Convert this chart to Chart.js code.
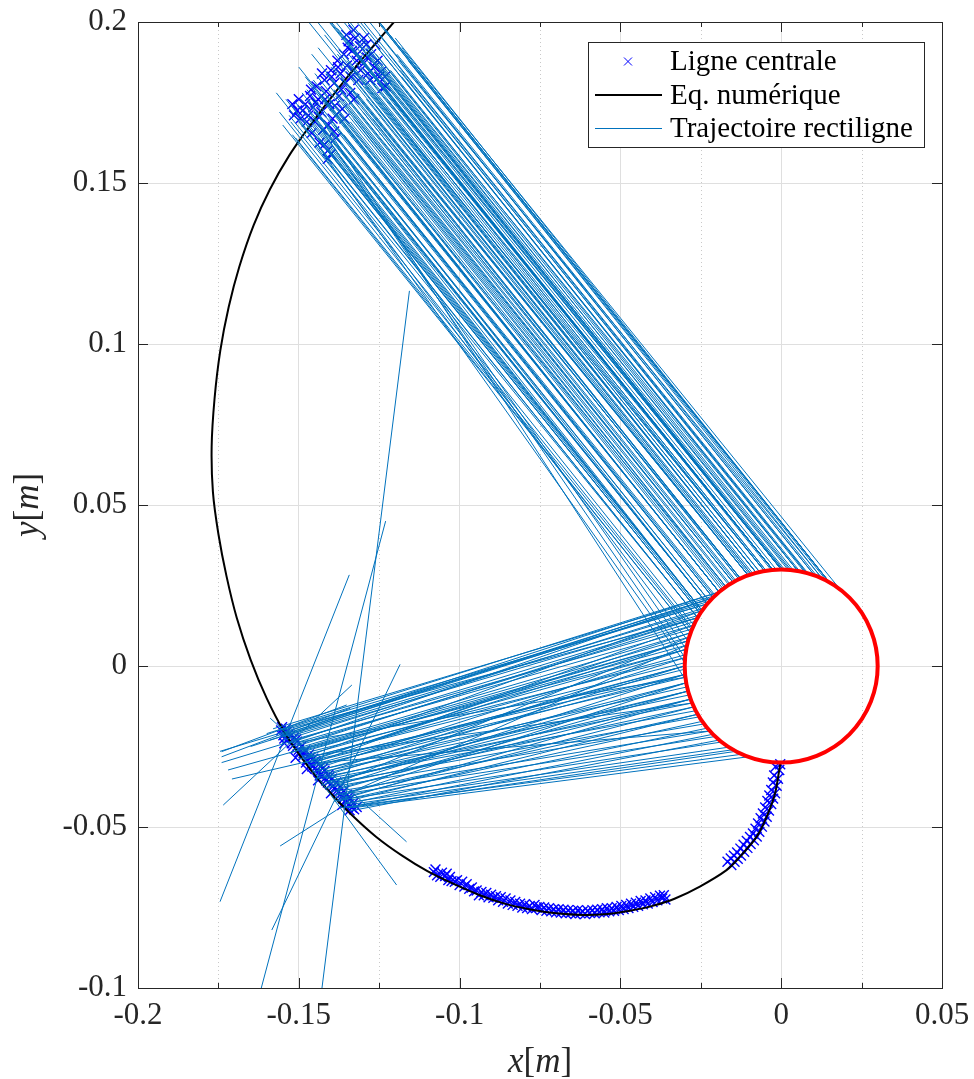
<!DOCTYPE html>
<html>
<head>
<meta charset="utf-8">
<script src="https://cdn.jsdelivr.net/npm/chart.js@4.4.0/dist/chart.umd.min.js"></script>
<style>
  html, body { margin: 0; padding: 0; background: #fff; }
</style>
</head>
<body>
<canvas id="chart" width="974" height="1079"></canvas>
<script>
// axes
const xTicks = [-0.2, -0.15, -0.1, -0.05, 0, 0.05];
const xTickLabels = ["-0.2", "-0.15", "-0.1", "-0.05", "0", "0.05"];
const xMinorTicks = [-0.175, -0.125, -0.075, -0.025, 0.025];
const yTicks = [-0.1, -0.05, 0, 0.05, 0.1, 0.15, 0.2];
const yTickLabels = ["-0.1", "-0.05", "0", "0.05", "0.1", "0.15", "0.2"];

// obstacle (red circle)
const circleCenter = [0, 0];
const circleRadius = 0.03;

// "Eq. numérique" curve
const curveX = [-0.1204, -0.1290, -0.1380, -0.1460, -0.1530, -0.1590, -0.1640, -0.1685, -0.1718, -0.1744,
  -0.1762, -0.1771, -0.1767, -0.1750, -0.1725, -0.1693, -0.1650, -0.1600, -0.1545, -0.1480,
  -0.1410, -0.1340, -0.1260, -0.1180, -0.1100, -0.1020, -0.0937, -0.0860, -0.0780, -0.0700,
  -0.0616, -0.0540, -0.0470, -0.0400, -0.0330, -0.0253, -0.0170, -0.0128, -0.0076, -0.0045,
  -0.0019, -0.0006, -0.0001];
const curveY = [0.2000, 0.1900, 0.1790, 0.1685, 0.1585, 0.1480, 0.1370, 0.1240, 0.1115, 0.0980,
  0.0830, 0.0680, 0.0540, 0.0410, 0.0280, 0.0150, 0.0020, -0.0100, -0.0205, -0.0300,
  -0.0385, -0.0458, -0.0530, -0.0588, -0.0637, -0.0676, -0.0712, -0.0738, -0.0756, -0.0768,
  -0.0773, -0.0770, -0.0760, -0.0745, -0.0722, -0.0685, -0.0634, -0.0592, -0.0530, -0.0468,
  -0.0395, -0.0323, -0.0295];

// "Ligne centrale" markers [x, y]
const upperMarks = [
  [-0.1505, 0.1725], [-0.1495, 0.1700], [-0.1480, 0.1745], [-0.1470, 0.1710], [-0.1465, 0.1770],
  [-0.1455, 0.1735], [-0.1450, 0.1690], [-0.1445, 0.1800], [-0.1440, 0.1760], [-0.1430, 0.1720],
  [-0.1425, 0.1665], [-0.1420, 0.1820], [-0.1415, 0.1785], [-0.1410, 0.1600], [-0.1405, 0.1745],
  [-0.1400, 0.1850], [-0.1395, 0.1700], [-0.1390, 0.1810], [-0.1385, 0.1640], [-0.1380, 0.1880],
  [-0.1375, 0.1770], [-0.1370, 0.1840], [-0.1365, 0.1730], [-0.1360, 0.1900], [-0.1355, 0.1810],
  [-0.1350, 0.1865], [-0.1345, 0.1940], [-0.1340, 0.1780], [-0.1335, 0.1910], [-0.1330, 0.1850],
  [-0.1325, 0.1950], [-0.1320, 0.1880], [-0.1315, 0.1820], [-0.1310, 0.1925], [-0.1300, 0.1870],
  [-0.1290, 0.1930], [-0.1285, 0.1840], [-0.1275, 0.1900], [-0.1265, 0.1860], [-0.1250, 0.1830],
  [-0.1240, 0.1795], [-0.1410, 0.1575], [-0.1435, 0.1625], [-0.1460, 0.1655], [-0.1520, 0.1745],
  [-0.1515, 0.1710], [-0.1500, 0.1760], [-0.1488, 0.1725], [-0.1475, 0.1690], [-0.1462, 0.1790],
  [-0.1448, 0.1750], [-0.1438, 0.1705], [-0.1428, 0.1840], [-0.1418, 0.1760], [-0.1408, 0.1680],
  [-0.1398, 0.1830], [-0.1388, 0.1740], [-0.1378, 0.1860], [-0.1368, 0.1790], [-0.1358, 0.1700],
  [-0.1348, 0.1920], [-0.1338, 0.1830], [-0.1328, 0.1760], [-0.1318, 0.1900], [-0.1308, 0.1850],
  [-0.1298, 0.1950], [-0.1288, 0.1890], [-0.1278, 0.1820], [-0.1262, 0.1930], [-0.1255, 0.1880],
  [-0.1245, 0.1845], [-0.1232, 0.1830], [-0.1420, 0.1620], [-0.1400, 0.1590], [-0.1390, 0.1660],
  [-0.1352, 0.1960], [-0.1330, 0.1975], [-0.1230, 0.1800]
];
const lowerMarks = [
  [-0.1555, -0.0200], [-0.1548, -0.0215], [-0.1540, -0.0195], [-0.1535, -0.0228], [-0.1530, -0.0210],
  [-0.1522, -0.0240], [-0.1515, -0.0222], [-0.1510, -0.0255], [-0.1505, -0.0235], [-0.1498, -0.0268],
  [-0.1492, -0.0250], [-0.1488, -0.0280], [-0.1480, -0.0262], [-0.1475, -0.0292], [-0.1468, -0.0275],
  [-0.1462, -0.0305], [-0.1455, -0.0288], [-0.1450, -0.0318], [-0.1445, -0.0300], [-0.1438, -0.0330],
  [-0.1432, -0.0312], [-0.1428, -0.0342], [-0.1420, -0.0325], [-0.1415, -0.0355], [-0.1408, -0.0338],
  [-0.1402, -0.0368], [-0.1396, -0.0350], [-0.1390, -0.0380], [-0.1384, -0.0362], [-0.1378, -0.0392],
  [-0.1372, -0.0375], [-0.1366, -0.0405], [-0.1360, -0.0388], [-0.1355, -0.0418], [-0.1350, -0.0400],
  [-0.1345, -0.0430], [-0.1340, -0.0412], [-0.1335, -0.0440], [-0.1330, -0.0425], [-0.1342, -0.0448],
  [-0.1365, -0.0432], [-0.1400, -0.0395], [-0.1440, -0.0355], [-0.1475, -0.0320], [-0.1510, -0.0285],
  [-0.1545, -0.0240], [-0.1552, -0.0190], [-0.1545, -0.0225], [-0.1538, -0.0205], [-0.1527, -0.0218],
  [-0.1518, -0.0248], [-0.1508, -0.0228], [-0.1500, -0.0260], [-0.1485, -0.0270], [-0.1478, -0.0300],
  [-0.1465, -0.0285], [-0.1458, -0.0312], [-0.1448, -0.0295], [-0.1442, -0.0322], [-0.1435, -0.0340],
  [-0.1425, -0.0318], [-0.1418, -0.0348], [-0.1410, -0.0362], [-0.1405, -0.0345], [-0.1392, -0.0372],
  [-0.1380, -0.0385], [-0.1370, -0.0398], [-0.1362, -0.0412], [-0.1352, -0.0425], [-0.1348, -0.0410],
  [-0.1338, -0.0435], [-0.1328, -0.0445], [-0.1320, -0.0438]
];
const bottomMarks = [
  [-0.1080, -0.0640], [-0.1070, -0.0650], [-0.1060, -0.0655], [-0.1045, -0.0652], [-0.1035, -0.0665],
  [-0.1025, -0.0668], [-0.1015, -0.0670], [-0.1000, -0.0680], [-0.0985, -0.0685], [-0.0970, -0.0692],
  [-0.0955, -0.0700], [-0.0940, -0.0712], [-0.0925, -0.0712], [-0.0910, -0.0718], [-0.0895, -0.0720],
  [-0.0880, -0.0728], [-0.0865, -0.0732], [-0.0850, -0.0738], [-0.0835, -0.0742], [-0.0820, -0.0745],
  [-0.0805, -0.0750], [-0.0790, -0.0752], [-0.0775, -0.0755], [-0.0760, -0.0750], [-0.0745, -0.0758],
  [-0.0730, -0.0760], [-0.0715, -0.0762], [-0.0700, -0.0765], [-0.0685, -0.0766], [-0.0670, -0.0768],
  [-0.0655, -0.0767], [-0.0640, -0.0770], [-0.0625, -0.0768], [-0.0610, -0.0770], [-0.0595, -0.0767],
  [-0.0580, -0.0768], [-0.0565, -0.0765], [-0.0550, -0.0766], [-0.0535, -0.0762], [-0.0520, -0.0760],
  [-0.0505, -0.0758], [-0.0490, -0.0755], [-0.0475, -0.0752], [-0.0460, -0.0748], [-0.0445, -0.0745],
  [-0.0430, -0.0740], [-0.0415, -0.0738], [-0.0400, -0.0733], [-0.0385, -0.0728], [-0.0370, -0.0722],
  [-0.0360, -0.0725], [-0.1075, -0.0632], [-0.1055, -0.0642], [-0.1040, -0.0645], [-0.1030, -0.0655],
  [-0.1008, -0.0665], [-0.0992, -0.0670], [-0.0978, -0.0678], [-0.0962, -0.0688], [-0.0947, -0.0697],
  [-0.0932, -0.0702], [-0.0917, -0.0705], [-0.0902, -0.0710], [-0.0887, -0.0715], [-0.0872, -0.0718],
  [-0.0857, -0.0722], [-0.0842, -0.0728], [-0.0827, -0.0733], [-0.0812, -0.0738], [-0.0797, -0.0740],
  [-0.0782, -0.0745], [-0.0767, -0.0742], [-0.0752, -0.0748], [-0.0737, -0.0750], [-0.0722, -0.0752],
  [-0.0707, -0.0755], [-0.0692, -0.0755], [-0.0677, -0.0757], [-0.0662, -0.0758], [-0.0647, -0.0760],
  [-0.0632, -0.0758], [-0.0617, -0.0762], [-0.0602, -0.0760], [-0.0587, -0.0758], [-0.0572, -0.0757],
  [-0.0557, -0.0755], [-0.0542, -0.0752], [-0.0527, -0.0752], [-0.0512, -0.0748], [-0.0497, -0.0745],
  [-0.0482, -0.0742], [-0.0467, -0.0738], [-0.0452, -0.0735], [-0.0437, -0.0730], [-0.0422, -0.0728],
  [-0.0407, -0.0722], [-0.0392, -0.0718], [-0.0377, -0.0713], [-0.0365, -0.0712]
];
const rightMarks = [
  [-0.0155, -0.0618], [-0.0145, -0.0608], [-0.0135, -0.0599], [-0.0125, -0.0589], [-0.0115, -0.0577],
  [-0.0105, -0.0565], [-0.0095, -0.0553], [-0.0085, -0.0541], [-0.0076, -0.0530], [-0.0068, -0.0515],
  [-0.0060, -0.0499], [-0.0052, -0.0483], [-0.0045, -0.0468], [-0.0038, -0.0449], [-0.0031, -0.0429],
  [-0.0025, -0.0412], [-0.0019, -0.0395], [-0.0014, -0.0372], [-0.0010, -0.0350], [-0.0006, -0.0323],
  [-0.0003, -0.0305], [-0.0167, -0.0608], [-0.0157, -0.0598], [-0.0147, -0.0589], [-0.0137, -0.0579],
  [-0.0127, -0.0567], [-0.0117, -0.0555], [-0.0107, -0.0543], [-0.0097, -0.0531], [-0.0088, -0.0520],
  [-0.0080, -0.0505], [-0.0072, -0.0489], [-0.0064, -0.0473], [-0.0057, -0.0458], [-0.0050, -0.0439],
  [-0.0043, -0.0419], [-0.0037, -0.0402], [-0.0031, -0.0385], [-0.0026, -0.0362], [-0.0022, -0.0340],
  [-0.0018, -0.0313]
];

// "Trajectoire rectiligne" segments [x1, y1, x2, y2]
const upperTraj = [
  [-0.1530, 0.1710, -0.0260, 0.0150], [-0.1510, 0.1750, -0.0246, 0.0172], [-0.1500, 0.1690, -0.0260, 0.0150],
  [-0.1490, 0.1780, -0.0230, 0.0193], [-0.1480, 0.1720, -0.0246, 0.0172], [-0.1470, 0.1810, -0.0193, 0.0230],
  [-0.1460, 0.1760, -0.0212, 0.0212], [-0.1450, 0.1700, -0.0230, 0.0193], [-0.1450, 0.1840, -0.0172, 0.0246],
  [-0.1440, 0.1780, -0.0193, 0.0230], [-0.1430, 0.1670, -0.0230, 0.0193], [-0.1420, 0.1820, -0.0150, 0.0260],
  [-0.1410, 0.1750, -0.0193, 0.0230], [-0.1410, 0.1610, -0.0246, 0.0172], [-0.1400, 0.1860, -0.0127, 0.0272],
  [-0.1390, 0.1790, -0.0150, 0.0260], [-0.1380, 0.1720, -0.0172, 0.0246], [-0.1380, 0.1900, -0.0078, 0.0290],
  [-0.1370, 0.1830, -0.0103, 0.0282], [-0.1360, 0.1760, -0.0150, 0.0260], [-0.1360, 0.1650, -0.0212, 0.0212],
  [-0.1350, 0.1880, -0.0078, 0.0290], [-0.1340, 0.1920, -0.0026, 0.0299], [-0.1340, 0.1800, -0.0103, 0.0282],
  [-0.1330, 0.1850, -0.0052, 0.0295], [-0.1320, 0.1940, 0.0000, 0.0300], [-0.1320, 0.1780, -0.0103, 0.0282],
  [-0.1310, 0.1890, -0.0026, 0.0299], [-0.1300, 0.1830, -0.0052, 0.0295], [-0.1290, 0.1920, 0.0026, 0.0299],
  [-0.1280, 0.1870, 0.0000, 0.0300], [-0.1270, 0.1810, -0.0026, 0.0299], [-0.1260, 0.1900, 0.0052, 0.0295],
  [-0.1250, 0.1840, 0.0000, 0.0300], [-0.1240, 0.1790, -0.0026, 0.0299], [-0.1230, 0.1730, -0.0052, 0.0295],
  [-0.1350, 0.2050, 0.0078, 0.0290], [-0.1400, 0.2100, 0.0052, 0.0295], [-0.1450, 0.2080, 0.0000, 0.0300],
  [-0.1500, 0.2120, -0.0026, 0.0299], [-0.1430, 0.2030, -0.0026, 0.0299], [-0.1570, 0.1780, -0.0260, 0.0150],
  [-0.1500, 0.1860, -0.0193, 0.0230], [-0.1460, 0.1900, -0.0127, 0.0272], [-0.1420, 0.1960, -0.0078, 0.0290],
  [-0.1380, 0.1980, -0.0026, 0.0299], [-0.1290, 0.1760, -0.0103, 0.0282], [-0.1330, 0.1700, -0.0172, 0.0246],
  [-0.1270, 0.1700, -0.0127, 0.0272], [-0.1200, 0.1750, -0.0026, 0.0299], [-0.1180, 0.1830, 0.0052, 0.0295],
  [-0.1220, 0.1900, 0.0078, 0.0290], [-0.1250, 0.1960, 0.0103, 0.0282], [-0.1280, 0.2000, 0.0103, 0.0282],
  [-0.1200, 0.1950, 0.0150, 0.0260], [-0.1310, 0.2070, 0.0127, 0.0272], [-0.1360, 0.2000, 0.0000, 0.0300],
  [-0.1440, 0.1920, -0.0103, 0.0282], [-0.1480, 0.1830, -0.0193, 0.0230], [-0.1390, 0.1680, -0.0212, 0.0212],
  [-0.1410, 0.1650, -0.0246, 0.0172], [-0.1520, 0.1650, -0.0282, 0.0103], [-0.1470, 0.1760, -0.0296, -0.0045],
  [-0.1480, 0.1740, -0.0299, 0.0026], [-0.1450, 0.1620, -0.0290, 0.0078], [-0.1180, 0.1920, 0.0183, 0.0238],
  [-0.1190, 0.1880, 0.0127, 0.0272],
  [-0.1525, 0.1690, -0.0272, 0.0127], [-0.1515, 0.1730, -0.0252, 0.0163], [-0.1495, 0.1760, -0.0230, 0.0193],
  [-0.1485, 0.1700, -0.0249, 0.0168], [-0.1475, 0.1790, -0.0205, 0.0219], [-0.1465, 0.1740, -0.0223, 0.0201],
  [-0.1455, 0.1820, -0.0185, 0.0236], [-0.1445, 0.1720, -0.0223, 0.0201], [-0.1435, 0.1800, -0.0181, 0.0240],
  [-0.1425, 0.1760, -0.0193, 0.0230], [-0.1415, 0.1840, -0.0145, 0.0263], [-0.1405, 0.1700, -0.0208, 0.0216],
  [-0.1395, 0.1820, -0.0141, 0.0265], [-0.1385, 0.1770, -0.0163, 0.0252], [-0.1375, 0.1870, -0.0098, 0.0284],
  [-0.1365, 0.1800, -0.0132, 0.0270], [-0.1355, 0.1740, -0.0159, 0.0254], [-0.1345, 0.1900, -0.0052, 0.0295],
  [-0.1335, 0.1830, -0.0093, 0.0285], [-0.1325, 0.1760, -0.0127, 0.0272], [-0.1315, 0.1930, 0.0000, 0.0300],
  [-0.1305, 0.1860, -0.0047, 0.0296], [-0.1295, 0.1800, -0.0078, 0.0290], [-0.1285, 0.1900, 0.0005, 0.0300],
  [-0.1275, 0.1840, -0.0031, 0.0298], [-0.1265, 0.1780, -0.0067, 0.0292], [-0.1255, 0.1920, 0.0057, 0.0295],
  [-0.1245, 0.1860, 0.0010, 0.0300], [-0.1235, 0.1810, -0.0016, 0.0300], [-0.1225, 0.1760, -0.0047, 0.0296],
  [-0.1215, 0.1850, 0.0037, 0.0298], [-0.1205, 0.1800, 0.0005, 0.0300], [-0.1195, 0.1900, 0.0112, 0.0278],
  [-0.1185, 0.1850, 0.0073, 0.0291], [-0.1370, 0.2150, 0.0150, 0.0260], [-0.1420, 0.2150, 0.0083, 0.0288],
  [-0.1470, 0.2150, 0.0021, 0.0299], [-0.1520, 0.2150, -0.0026, 0.0299], [-0.1550, 0.2100, -0.0088, 0.0287],
  [-0.1490, 0.2060, -0.0067, 0.0292], [-0.1390, 0.2060, 0.0031, 0.0298], [-0.1330, 0.2100, 0.0150, 0.0260],
  [-0.1290, 0.2050, 0.0150, 0.0260], [-0.1340, 0.1690, -0.0176, 0.0243], [-0.1300, 0.1720, -0.0132, 0.0270],
  [-0.1260, 0.1740, -0.0093, 0.0285], [-0.1440, 0.1640, -0.0252, 0.0163], [-0.1380, 0.1620, -0.0230, 0.0193],
  [-0.1560, 0.1720, -0.0276, 0.0117], [-0.1550, 0.1680, -0.0282, 0.0103], [-0.1510, 0.1640, -0.0278, 0.0112],
  [-0.1460, 0.1680, -0.0246, 0.0172], [-0.1540, 0.1760, -0.0252, 0.0163], [-0.1230, 0.1970, 0.0150, 0.0260],
  [-0.1160, 0.1880, 0.0141, 0.0265], [-0.1500, 0.1700, -0.0300, 0.0010], [-0.1440, 0.1680, -0.0295, 0.0052]
];
const lowerTraj = [
  [-0.1560, -0.0200, -0.0230, 0.0193], [-0.1550, -0.0220, -0.0246, 0.0172], [-0.1540, -0.0210, -0.0193, 0.0230],
  [-0.1530, -0.0240, -0.0212, 0.0212], [-0.1520, -0.0230, -0.0272, 0.0127], [-0.1520, -0.0260, -0.0282, 0.0103],
  [-0.1510, -0.0250, -0.0260, 0.0150], [-0.1500, -0.0270, -0.0290, 0.0078], [-0.1500, -0.0290, -0.0246, 0.0172],
  [-0.1490, -0.0280, -0.0295, 0.0052], [-0.1480, -0.0300, -0.0282, 0.0103], [-0.1480, -0.0270, -0.0299, 0.0026],
  [-0.1470, -0.0310, -0.0300, 0.0000], [-0.1460, -0.0290, -0.0290, 0.0078], [-0.1460, -0.0330, -0.0299, -0.0026],
  [-0.1450, -0.0320, -0.0295, 0.0052], [-0.1440, -0.0340, -0.0295, -0.0052], [-0.1440, -0.0310, -0.0300, 0.0000],
  [-0.1430, -0.0350, -0.0290, -0.0078], [-0.1420, -0.0330, -0.0299, 0.0026], [-0.1420, -0.0360, -0.0282, -0.0103],
  [-0.1410, -0.0380, -0.0299, -0.0026], [-0.1400, -0.0370, -0.0272, -0.0127], [-0.1400, -0.0390, -0.0290, -0.0078],
  [-0.1390, -0.0400, -0.0260, -0.0150], [-0.1380, -0.0380, -0.0282, -0.0103], [-0.1380, -0.0420, -0.0246, -0.0172],
  [-0.1370, -0.0410, -0.0272, -0.0127], [-0.1360, -0.0430, -0.0230, -0.0193], [-0.1360, -0.0400, -0.0295, -0.0052],
  [-0.1350, -0.0440, -0.0212, -0.0212], [-0.1350, -0.0420, -0.0260, -0.0150], [-0.1340, -0.0450, -0.0193, -0.0230],
  [-0.1340, -0.0430, -0.0150, -0.0260], [-0.1330, -0.0440, -0.0103, -0.0282], [-0.1370, -0.0440, -0.0122, -0.0274],
  [-0.1745, -0.0265, -0.0230, 0.0193], [-0.1740, -0.0300, -0.0260, 0.0150], [-0.1720, -0.0323, -0.0290, 0.0078],
  [-0.1708, -0.0351, -0.0299, -0.0026], [-0.1650, -0.0250, -0.0212, 0.0212], [-0.1600, -0.0210, -0.0193, 0.0230],
  [-0.1530, -0.0270, -0.0295, 0.0052], [-0.1450, -0.0350, -0.0300, 0.0000], [-0.1410, -0.0360, -0.0290, -0.0078],
  [-0.1390, -0.0420, -0.0282, -0.0103], [-0.1450, -0.0300, -0.0272, 0.0127], [-0.1550, -0.0200, -0.0260, 0.0150],
  [-0.1430, -0.0370, -0.0295, -0.0052],
  [-0.1555, -0.0215, -0.0212, 0.0212], [-0.1545, -0.0230, -0.0240, 0.0180], [-0.1535, -0.0220, -0.0255, 0.0158],
  [-0.1525, -0.0250, -0.0266, 0.0139], [-0.1515, -0.0240, -0.0277, 0.0115], [-0.1505, -0.0260, -0.0286, 0.0090],
  [-0.1495, -0.0265, -0.0293, 0.0065], [-0.1485, -0.0290, -0.0298, 0.0035], [-0.1475, -0.0285, -0.0300, 0.0010],
  [-0.1465, -0.0300, -0.0300, -0.0010], [-0.1455, -0.0310, -0.0298, -0.0035], [-0.1445, -0.0325, -0.0293, -0.0065],
  [-0.1435, -0.0330, -0.0286, -0.0090], [-0.1425, -0.0345, -0.0277, -0.0115], [-0.1415, -0.0350, -0.0266, -0.0139],
  [-0.1405, -0.0365, -0.0255, -0.0158], [-0.1395, -0.0375, -0.0240, -0.0180], [-0.1385, -0.0390, -0.0222, -0.0202],
  [-0.1375, -0.0400, -0.0205, -0.0219], [-0.1365, -0.0415, -0.0185, -0.0236], [-0.1355, -0.0425, -0.0163, -0.0252],
  [-0.1345, -0.0440, -0.0141, -0.0265], [-0.1420, -0.0380, -0.0286, 0.0090], [-0.1380, -0.0410, -0.0293, 0.0065],
  [-0.1470, -0.0280, -0.0277, -0.0115], [-0.1520, -0.0240, -0.0298, -0.0035], [-0.1440, -0.0300, -0.0222, -0.0202],
  [-0.1580, -0.0195, -0.0205, 0.0219], [-0.1590, -0.0230, -0.0222, 0.0202]
];
const strayTraj = [
  [-0.1156, 0.1165, -0.1438, -0.1080], [-0.1230, 0.0450, -0.1630, -0.1050], [-0.1343, 0.0283, -0.1745, -0.0732],
  [-0.1185, 0.0005, -0.1584, -0.0820], [-0.1335, -0.0059, -0.1735, -0.0432], [-0.1740, -0.0266, -0.1351, -0.0121],
  [-0.1740, -0.0282, -0.1340, -0.0131], [-0.1589, -0.0162, -0.1165, -0.0546], [-0.1496, -0.0270, -0.1196, -0.0680],
  [-0.1558, -0.0559, -0.1382, -0.0447]
];

const serif = "'Liberation Serif', 'DejaVu Serif', serif";
const axisColor = "#262626";
const trajColor = "#0072BD";
const markColor = "#0000FF";

function toPoints(pairs) {
  return pairs.map(p => ({ x: p[0], y: p[1] }));
}

// break every segment with a null point so the segments are not joined
function segmentsToPoints(segs) {
  const pts = [];
  segs.forEach(s => {
    pts.push({ x: s[0], y: s[1] }, { x: s[2], y: s[3] }, { x: s[2], y: null });
  });
  return pts;
}

const markPoints = toPoints([].concat(upperMarks, lowerMarks, bottomMarks, rightMarks));
const curvePoints = curveX.map((x, i) => ({ x: x, y: curveY[i] }));
const trajPoints = segmentsToPoints([].concat(upperTraj, lowerTraj, strayTraj));

function drawMathLabel(ctx, parts, size) {
  // parts: [text, italic]
  let total = 0;
  const widths = parts.map(p => {
    ctx.font = (p[1] ? "italic " : "") + size + "px " + serif;
    const w = ctx.measureText(p[0]).width;
    total += w;
    return w;
  });
  let x = -total / 2;
  parts.forEach((p, i) => {
    ctx.font = (p[1] ? "italic " : "") + size + "px " + serif;
    ctx.fillText(p[0], x, 0);
    x += widths[i];
  });
}

const framePlugin = {
  id: "frame",
  beforeDatasetsDraw(chart) {
    const { ctx, chartArea: a, scales: { x } } = chart;
    ctx.save();
    ctx.strokeStyle = "#c9c9c9";
    ctx.lineWidth = 1;
    ctx.setLineDash([1, 3]);
    xMinorTicks.forEach(v => {
      const px = Math.round(x.getPixelForValue(v)) + 0.5;
      ctx.beginPath();
      ctx.moveTo(px, a.top);
      ctx.lineTo(px, a.bottom);
      ctx.stroke();
    });
    ctx.restore();
  },
  afterDatasetsDraw(chart) {
    const { ctx, chartArea: a, scales: { x, y } } = chart;
    ctx.save();
    // red circle
    const cx = x.getPixelForValue(circleCenter[0]);
    const cy = y.getPixelForValue(circleCenter[1]);
    const rx = x.getPixelForValue(circleCenter[0] + circleRadius) - cx;
    const ry = cy - y.getPixelForValue(circleCenter[1] + circleRadius);
    ctx.strokeStyle = "#FF0000";
    ctx.lineWidth = 4;
    ctx.beginPath();
    ctx.ellipse(cx, cy, rx, ry, 0, 0, Math.PI * 2);
    ctx.stroke();

    // box and inward ticks
    ctx.strokeStyle = axisColor;
    ctx.lineWidth = 1;
    ctx.strokeRect(Math.round(a.left) + 0.5, Math.round(a.top) + 0.5,
      Math.round(a.right - a.left), Math.round(a.bottom - a.top));
    ctx.beginPath();
    xTicks.forEach(v => {
      const px = Math.round(x.getPixelForValue(v)) + 0.5;
      ctx.moveTo(px, a.bottom); ctx.lineTo(px, a.bottom - 10);
      ctx.moveTo(px, a.top); ctx.lineTo(px, a.top + 10);
    });
    xMinorTicks.forEach(v => {
      const px = Math.round(x.getPixelForValue(v)) + 0.5;
      ctx.moveTo(px, a.bottom); ctx.lineTo(px, a.bottom - 5);
      ctx.moveTo(px, a.top); ctx.lineTo(px, a.top + 5);
    });
    yTicks.forEach(v => {
      const py = Math.round(y.getPixelForValue(v)) + 0.5;
      ctx.moveTo(a.left, py); ctx.lineTo(a.left + 10, py);
      ctx.moveTo(a.right, py); ctx.lineTo(a.right - 10, py);
    });
    ctx.stroke();
    ctx.restore();
  },
  afterDraw(chart) {
    const { ctx, chartArea: a } = chart;
    ctx.save();
    ctx.fillStyle = axisColor;
    ctx.textBaseline = "alphabetic";

    // axis titles
    ctx.save();
    ctx.translate((a.left + a.right) / 2, 1072);
    drawMathLabel(ctx, [["x", true], ["[", false], ["m", true], ["]", false]], 35);
    ctx.restore();
    ctx.save();
    ctx.translate(38, (a.top + a.bottom) / 2);
    ctx.rotate(-Math.PI / 2);
    drawMathLabel(ctx, [["y", true], ["[", false], ["m", true], ["]", false]], 35);
    ctx.restore();

    // legend
    const bx = 588, by = 42, bw = 336, bh = 105;
    ctx.fillStyle = "#ffffff";
    ctx.fillRect(bx, by, bw, bh);
    ctx.strokeStyle = axisColor;
    ctx.lineWidth = 1;
    ctx.strokeRect(bx + 0.5, by + 0.5, bw, bh);
    const rows = [61.5, 95, 128];
    const labels = ["Ligne centrale", "Eq. numérique", "Trajectoire rectiligne"];
    ctx.font = "29px " + serif;
    ctx.textBaseline = "middle";
    ctx.fillStyle = "#000000";
    labels.forEach((t, i) => ctx.fillText(t, 670, rows[i] + 1));
    // marker sample
    ctx.strokeStyle = markColor;
    ctx.lineWidth = 1;
    ctx.beginPath();
    ctx.moveTo(624, rows[0] - 4); ctx.lineTo(632, rows[0] + 4);
    ctx.moveTo(624, rows[0] + 4); ctx.lineTo(632, rows[0] - 4);
    ctx.stroke();
    // line samples
    ctx.strokeStyle = "#000000";
    ctx.lineWidth = 2;
    ctx.beginPath(); ctx.moveTo(595, rows[1]); ctx.lineTo(662, rows[1]); ctx.stroke();
    ctx.strokeStyle = trajColor;
    ctx.lineWidth = 1;
    ctx.beginPath(); ctx.moveTo(595, rows[2] + 0.5); ctx.lineTo(662, rows[2] + 0.5); ctx.stroke();
    ctx.restore();
  }
};

const ctx = document.getElementById("chart").getContext("2d");

new Chart(ctx, {
  type: "line",
  data: {
    datasets: [
      {
        label: "Trajectoire rectiligne",
        data: trajPoints,
        borderColor: trajColor,
        borderWidth: 1,
        pointRadius: 0,
        spanGaps: false,
        tension: 0,
        order: 1
      },
      {
        label: "Eq. numérique",
        data: curvePoints,
        borderColor: "#000000",
        borderWidth: 2,
        pointRadius: 0,
        tension: 0.3,
        order: 2
      },
      {
        type: "scatter",
        label: "Ligne centrale",
        data: markPoints,
        showLine: false,
        pointStyle: "crossRot",
        pointRadius: 7,
        borderColor: markColor,
        backgroundColor: markColor,
        borderWidth: 1.4,
        order: 3
      }
    ]
  },
  options: {
    responsive: false,
    animation: false,
    layout: { padding: { left: 0, right: 32, top: 22, bottom: 0 } },
    plugins: {
      legend: { display: false },
      tooltip: { enabled: false }
    },
    scales: {
      x: {
        type: "linear",
        min: -0.2,
        max: 0.05,
        afterBuildTicks: s => { s.ticks = xTicks.map(v => ({ value: v })); },
        afterFit: s => { s.height = 91; s.paddingLeft = 0; s.paddingRight = 0; },
        ticks: {
          callback: (v, i) => xTickLabels[i],
          font: { family: serif, size: 31 },
          color: axisColor,
          padding: 9,
          maxRotation: 0,
          autoSkip: false
        },
        grid: { color: "#dfdfdf", lineWidth: 1, drawTicks: false },
        border: { display: false }
      },
      y: {
        type: "linear",
        min: -0.1,
        max: 0.2,
        afterBuildTicks: s => { s.ticks = yTicks.map(v => ({ value: v })); },
        afterFit: s => { s.width = 138; s.paddingTop = 0; s.paddingBottom = 0; },
        ticks: {
          callback: (v, i) => yTickLabels[i],
          font: { family: serif, size: 31 },
          color: axisColor,
          padding: 11,
          autoSkip: false
        },
        grid: { color: "#dfdfdf", lineWidth: 1, drawTicks: false },
        border: { display: false }
      }
    }
  },
  plugins: [framePlugin]
});
</script>
</body>
</html>
